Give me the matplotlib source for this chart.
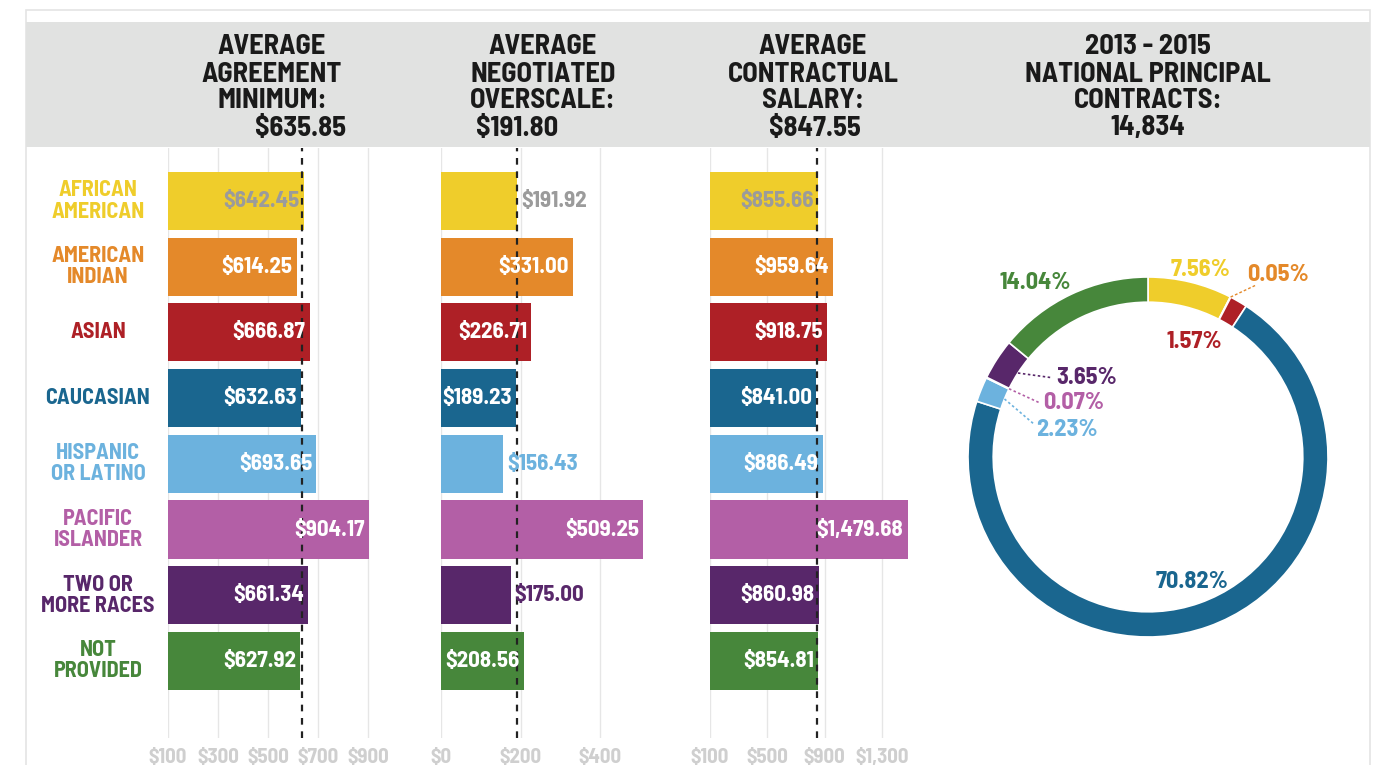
import matplotlib
matplotlib.use("Agg")
import matplotlib.pyplot as plt
import numpy as np
from matplotlib.patches import Rectangle

plt.rcParams['font.family'] = ['Barlow Semi Condensed', 'Barlow Condensed',
                               'Roboto Condensed', 'Asap Condensed', 'DejaVu Sans']
plt.rcParams['font.weight'] = 'bold'

# data
categories = ["AFRICAN\nAMERICAN", "AMERICAN\nINDIAN", "ASIAN", "CAUCASIAN",
              "HISPANIC\nOR LATINO", "PACIFIC\nISLANDER", "TWO OR\nMORE RACES",
              "NOT\nPROVIDED"]
colors = ["#EFCD2B", "#E4892A", "#AE2026", "#1A668F", "#6CB2DE", "#B35FA6",
          "#58276A", "#47873B"]

agreement_min = [642.45, 614.25, 666.87, 632.63, 693.65, 904.17, 661.34, 627.92]
overscale = [191.92, 331.00, 226.71, 189.23, 156.43, 509.25, 175.00, 208.56]
contract_salary = [855.66, 959.64, 918.75, 841.00, 886.49, 1479.68, 860.98, 854.81]

averages = [635.85, 191.80, 847.55]
headers = [["AVERAGE", "AGREEMENT", "MINIMUM:"],
           ["AVERAGE", "NEGOTIATED", "OVERSCALE:"],
           ["AVERAGE", "CONTRACTUAL", "SALARY:"]]
header_values = ["$635.85", "$191.80", "$847.55"]

ticks_1 = [100, 300, 500, 700, 900]
ticks_2 = [0, 200, 400]
ticks_3 = [100, 500, 900, 1300]

share_pct = [7.56, 0.05, 1.57, 70.82, 2.23, 0.07, 3.65, 14.04]
donut_title = ["2013 - 2015", "NATIONAL PRINCIPAL", "CONTRACTS:", "14,834"]

# label colour: 'w' inside in white, 'g' inside gray, 'o' outside in bar colour
label_style_1 = ['g', 'w', 'w', 'w', 'w', 'w', 'w', 'w']
label_style_2 = ['og', 'w', 'w', 'w', 'o', 'w', 'o', 'w']
label_style_3 = ['g', 'w', 'w', 'w', 'w', 'w', 'w', 'w']

W, H = 1392, 765
fig = plt.figure(figsize=(W / 100, H / 100), dpi=100)
fig.patch.set_facecolor('white')


def fx(px):
    return px / W


def fy(py):
    return 1 - py / H


# frame + header band
fig.add_artist(Rectangle((fx(26), fy(780)), fx(1370) - fx(26), fy(10) - fy(780),
                         transform=fig.transFigure, facecolor='none',
                         edgecolor='#e4e4e4', lw=1.2))
fig.add_artist(Rectangle((fx(26), fy(147)), fx(1370) - fx(26), fy(22) - fy(147),
                         transform=fig.transFigure, facecolor='#e1e2e1',
                         edgecolor='none'))

grid_c = '#e6e6e6'
tick_c = '#cfcfcf'
gray_lbl = '#9b9b9b'

n = len(categories)
row0, row_step = 201, 65.7
top_px, bot_px = 148, 738
ylim = ((bot_px - row0) / row_step, (top_px - row0) / row_step)
bar_fs = 16.5


def money(v):
    return "${:,.2f}".format(v)


def panel(left_px, right_px, v0, scale, vals, ticks, avg, styles):
    ax = fig.add_axes([fx(left_px), fy(bot_px), fx(right_px) - fx(left_px),
                       fy(top_px) - fy(bot_px)])
    ax.set_xlim(v0, v0 + (right_px - left_px) / scale)
    ax.set_ylim(*ylim)
    for t in ticks:
        ax.axvline(t, color=grid_c, lw=1, zorder=0)
    y = np.arange(n)
    ax.barh(y, np.array(vals) - v0, left=v0, height=0.885, color=colors, zorder=2)
    ax.axvline(avg, color='#222222', lw=1.6, ls=(0, (3, 3)), zorder=3)
    for i, v in enumerate(vals):
        st = styles[i]
        if st.startswith('o'):
            c = gray_lbl if st == 'og' else colors[i]
            ax.annotate(money(v), (v, i), xytext=(3, 0), textcoords='offset points',
                        ha='left', va='center', fontsize=bar_fs, color=c, zorder=4)
        else:
            c = gray_lbl if st == 'g' else 'white'
            ax.annotate(money(v), (v, i), xytext=(-3, 0), textcoords='offset points',
                        ha='right', va='center', fontsize=bar_fs, color=c, zorder=4)
    ax.set_xticks(ticks)
    ax.set_xticklabels(["${:,}".format(t) for t in ticks])
    ax.tick_params(axis='x', length=0, pad=7, labelsize=15, labelcolor=tick_c)
    ax.set_yticks([])
    for s in ax.spines.values():
        s.set_visible(False)
    ax.patch.set_alpha(0)
    return ax


panel(168, 400, 100, 0.25, agreement_min, ticks_1, averages[0], label_style_1)
panel(441, 660, 0, 0.3975, overscale, ticks_2, averages[1], label_style_2)
panel(710, 920, 100, 0.1432, contract_salary, ticks_3, averages[2], label_style_3)

# category labels
for i, cat in enumerate(categories):
    lines = cat.split("\n")
    yc = row0 + row_step * i
    offs = [0] if len(lines) == 1 else [-10.5, 10.5]
    for ln, o in zip(lines, offs):
        fig.text(fx(98), fy(yc + o), ln, ha='center', va='center',
                 fontsize=16, color=colors[i])

# headers
hdr_fs = 20.5
line_y = [47, 74, 101]
hdr_x = [272, 543, 813]
val_x = [300, 517, 815]
for hx, vx, h, v in zip(hdr_x, val_x, headers, header_values):
    for ln, yy in zip(h, line_y):
        fig.text(fx(hx), fy(yy), ln, ha='center', va='center', fontsize=hdr_fs,
                 color='#1a1a1a')
    fig.text(fx(vx), fy(128), v, ha='center', va='center', fontsize=hdr_fs,
             color='#1a1a1a')
for ln, yy in zip(donut_title, line_y + [128]):
    fig.text(fx(1148), fy(yy), ln, ha='center', va='center', fontsize=hdr_fs,
             color='#1a1a1a')

# donut
cx, cy, R = 1148, 457, 180
half = 200
axd = fig.add_axes([fx(cx - half), fy(cy + half), 2 * half / W, 2 * half / H])
ring_w = 0.14
axd.pie(share_pct, colors=colors, startangle=90, counterclock=False, radius=1,
        wedgeprops=dict(width=ring_w, edgecolor='white', linewidth=1.2))
# pie() resets the limits, so set them afterwards
lim = half / R
axd.set_xlim(-lim, lim)
axd.set_ylim(-lim, lim)
axd.set_aspect('equal')
axd.axis('off')

# wedge mid angles (clockwise from top)
cum = np.cumsum([0] + share_pct[:-1])
mid_ang = np.deg2rad((cum + np.array(share_pct) / 2) * 3.6)


def ring_pt(k, r):
    return r * np.sin(mid_ang[k]), r * np.cos(mid_ang[k])


lbl_pos = {0: (0.29, 1.04, 'center'), 1: (0.72, 1.01, 'center'),
           2: (0.257, 0.64, 'center'), 3: (0.244, -0.694, 'center'),
           4: (-0.62, 0.15, 'left'), 5: (-0.585, 0.30, 'left'),
           6: (-0.51, 0.44, 'left'), 7: (-0.628, 0.966, 'center')}
for k, (px, py, ha) in lbl_pos.items():
    axd.text(px, py, "{:.2f}%".format(share_pct[k]), ha=ha, va='center',
             fontsize=17.5, color=colors[k])

# leader lines
x0, y0 = ring_pt(1, 1.0)
axd.plot([x0, 0.60], [y0, 0.955], color=colors[1], lw=1, ls=(0, (2, 1.5)))
for k, end in [(6, (-0.53, 0.44)), (5, (-0.60, 0.30)), (4, (-0.63, 0.18))]:
    xs, ys = ring_pt(k, 1 - ring_w)
    axd.plot([xs, end[0]], [ys, end[1]], color=colors[k], lw=1.2, ls=(0, (1.5, 1.5)))

fig.savefig("out.png", dpi=100)
